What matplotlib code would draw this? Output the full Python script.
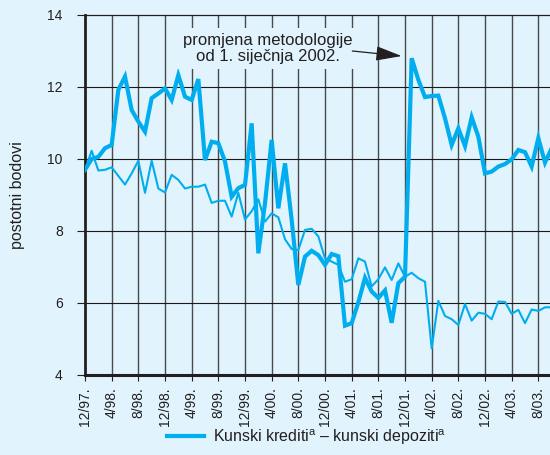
import matplotlib
matplotlib.use('Agg')
import matplotlib.pyplot as plt
from matplotlib.lines import Line2D

plt.rcParams['font.family'] = ['Liberation Sans', 'DejaVu Sans']
plt.rcParams['mathtext.fontset'] = 'custom'
plt.rcParams['mathtext.rm'] = 'Liberation Sans'

# mjesecni podaci od 12/97. (mjesec 0) nadalje
krediti_depoziti = [9.7, 10.0, 10.06, 10.3, 10.39, 11.92, 12.29, 11.36, 11.04, 10.76,
                    11.69, 11.82, 11.96, 11.64, 12.33, 11.73, 11.64, 12.22, 9.97, 10.48,
                    10.44, 9.93, 8.95, 9.19, 9.28, 10.99, 7.38, 8.77, 10.53, 8.63,
                    9.88, 8.31, 6.5, 7.29, 7.45, 7.33, 7.06, 7.36, 7.3, 5.37,
                    5.44, 6.02, 6.7, 6.32, 6.14, 6.35, 5.45, 6.55, 6.73, 12.8,
                    12.2, 11.72, 11.75, 11.76, 11.13, 10.39, 10.85, 10.36, 11.16, 10.62,
                    9.6, 9.65, 9.79, 9.86, 9.99, 10.25, 10.19, 9.79, 10.58, 9.9,
                    10.3]
druga_serija = [9.69, 10.23, 9.68, 9.7, 9.77, 9.53, 9.29, 9.6, 9.95, 9.06,
                9.95, 9.18, 9.07, 9.56, 9.42, 9.18, 9.23, 9.23, 9.29, 8.78,
                8.84, 8.84, 8.4, 9.06, 8.32, 8.55, 8.88, 8.26, 8.49, 8.38,
                7.77, 7.5, 7.47, 8.03, 8.06, 7.85, 7.24, 7.15, 7.06, 6.59,
                6.66, 7.24, 7.15, 6.46, 6.66, 6.99, 6.64, 7.1, 6.73, 6.84,
                6.69, 6.59, 4.74, 6.06, 5.64, 5.55, 5.39, 5.97, 5.51, 5.73,
                5.7, 5.55, 6.04, 6.03, 5.7, 5.81, 5.44, 5.82, 5.78, 5.88,
                5.88]
tick_labels = ['12/97.', '4/98.', '8/98.', '12/98.', '4/99.', '8/99.', '12/99.',
               '4/00.', '8/00.', '12/00.', '4/01.', '8/01.', '12/01.', '4/02.',
               '8/02.', '12/02.', '4/03.', '8/03.']
y_ticks = [4, 6, 8, 10, 12, 14]

bg = '#e1f3fd'
plava = '#00aeef'
tekst = '#231f20'

mjeseci = list(range(len(krediti_depoziti)))
tick_pos = [4 * i for i in range(len(tick_labels))]

fig = plt.figure(figsize=(5.5, 4.55), dpi=100, facecolor=bg)
ax = fig.add_axes([85 / 550, 80 / 455, 480 / 550, 360 / 455], facecolor=bg)

ax.plot(mjeseci, druga_serija, color=plava, lw=1.5, zorder=3)
ax.plot(mjeseci, krediti_depoziti, color=plava, lw=3.0, zorder=4,
        solid_joinstyle='miter')

ax.set_xlim(0, 72)
ax.set_ylim(4, 14)
ax.set_xticks(tick_pos)
ax.set_xticklabels(tick_labels, rotation=90, fontsize=10, color=tekst)
ax.set_yticks(y_ticks)
ax.set_yticklabels([str(v) for v in y_ticks], fontsize=10, color=tekst)
ax.tick_params(axis='y', length=6, width=0.8, pad=10, color=tekst)
ax.tick_params(axis='x', length=4.5, width=0.8, pad=4.5, color=tekst)

for v in tick_pos[1:] + [72]:
    ax.axvline(v, color='#4a4a4a', lw=1.0, zorder=1)
for v in y_ticks[1:-1]:
    ax.axhline(v, color='#1a1a1a', lw=0.8, zorder=1)

ax.spines['right'].set_visible(False)
ax.spines['left'].set_linewidth(2.0)
ax.spines['left'].set_color(tekst)
ax.spines['bottom'].set_linewidth(2.2)
ax.spines['bottom'].set_color(tekst)
ax.spines['top'].set_linewidth(0.9)
ax.spines['top'].set_color(tekst)

ax.set_ylabel('postotni bodovi', fontsize=11.5, color=tekst)
ax.yaxis.set_label_coords(-0.125, 0.5)

ax.text(27.45, 13.07, 'promjena metodologije\nod 1. siječnja 2002.',
        ha='center', va='center', fontsize=12, color=tekst, linespacing=1.12,
        zorder=5, bbox=dict(facecolor=bg, edgecolor='none', pad=3.5))
ax.annotate('', xy=(47.5, 12.86), xytext=(40.1, 13.0),
            arrowprops=dict(arrowstyle='-|>,head_length=1.6,head_width=0.45',
                            color=tekst, lw=0.9, shrinkA=0, shrinkB=0),
            zorder=6)

handle = Line2D([], [], color=plava, lw=3.0)
fig.legend([handle], [r'Kunski krediti$^{\mathrm{a}}$ – kunski depoziti$^{\mathrm{a}}$'],
           loc='center left', bbox_to_anchor=(167 / 550, 1 - 437 / 455),
           frameon=False, fontsize=11.5, handlelength=2.3, handletextpad=0.6,
           borderpad=0, borderaxespad=0, labelcolor=tekst)

fig.savefig('out.png', dpi=100, facecolor=bg)
